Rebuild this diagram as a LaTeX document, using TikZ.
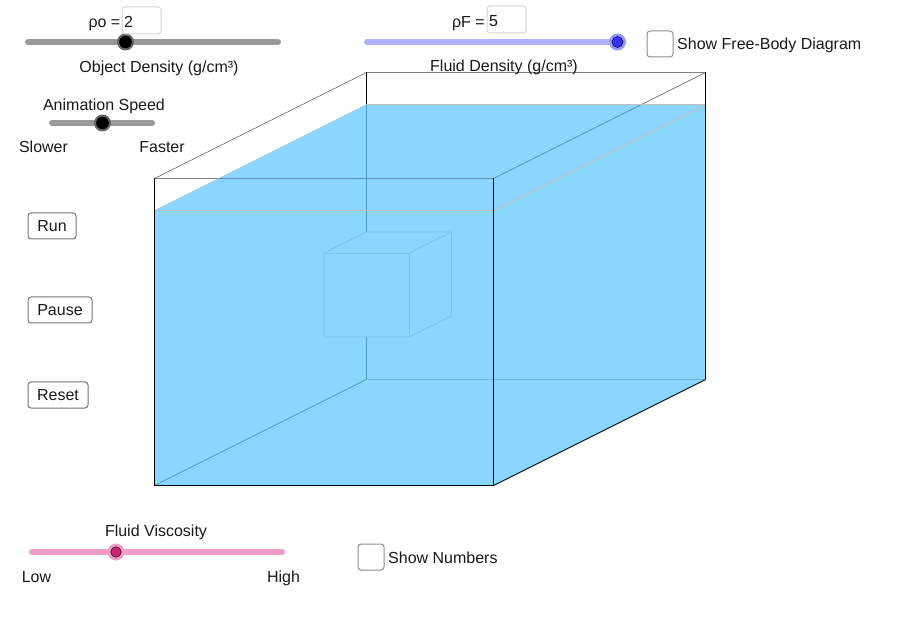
\documentclass[tikz,border=0pt]{standalone}
\usepackage{fontspec}
\setmainfont{Liberation Sans}
\usetikzlibrary{positioning}
\definecolor{water}{HTML}{8AD6FF}
\definecolor{hidden}{HTML}{4A9CC4}
\definecolor{floorline}{HTML}{6DB3D8}
\definecolor{sunken}{HTML}{5A8FAD}
\definecolor{cubeline}{HTML}{7CC3EA}
\definecolor{slidergray}{HTML}{999999}
\definecolor{sliderblue}{HTML}{B0B0FF}
\definecolor{sliderpink}{HTML}{EF9CC8}
\definecolor{knobblue}{HTML}{3333FF}
\definecolor{knobpink}{HTML}{D42079}
\tikzset{
  caption/.style={inner sep=0pt,anchor=base,font=\fontsize{16}{18}\selectfont,text=black!90},
  button/.style={draw=black!55,line width=1pt,rounded corners=3pt,minimum height=26pt,inner sep=0pt,font=\fontsize{16}{18}\selectfont,text=black!90},
  checkbox/.style={draw=black!45,line width=1pt,rounded corners=3pt,minimum size=26pt,inner sep=0pt},
  inputbox/.style={draw=black!17,line width=1pt,rounded corners=3pt,minimum width=39pt,minimum height=27pt,inner sep=0pt},
  track/.style={line width=6pt,line cap=round},
  knob/.style={circle,draw=black,line width=.5pt,minimum size=#1,inner sep=0pt},
  halo/.style={circle,minimum size=17pt,inner sep=0pt},
  edgeblack/.style={draw=black,line width=.9pt},
  edgegray/.style={draw=black!50,line width=.8pt},
  edgelight/.style={draw=black!25,line width=1pt},
  edgesunken/.style={draw=sunken,line width=.8pt},
  edgehidden/.style={draw=hidden,line width=.8pt},
  edgefloor/.style={draw=floorline,line width=1.2pt},
  edgecube/.style={draw=cubeline,line width=.9pt},
}
\begin{document}
\begin{tikzpicture}[x=1pt,y=-1pt]
\useasboundingbox (0,0) rectangle (900,620);

\coordinate (ftl) at (154.5,178.5);
\coordinate (ftr) at (493.5,178.5);
\coordinate (fbl) at (154.5,485.5);
\coordinate (fbr) at (493.5,485.5);
\coordinate (btl) at (366.5,72.5);
\coordinate (btr) at (705.5,72.5);
\coordinate (bbl) at (366.5,379.5);
\coordinate (bbr) at (705.5,379.5);
\coordinate (wfl) at (154.5,210.5);
\coordinate (wfr) at (493.5,210.5);
\coordinate (wbl) at (366.5,104.5);
\coordinate (wbr) at (705.5,104.5);
\coordinate (surfr) at (641.5,104.5);
\coordinate (surff) at (218.5,178.5);

\fill[water] (wfl) -- (wbl) -- (wbr) -- (bbr) -- (fbr) -- (fbl) -- cycle;

\path[edgegray]
  (ftl) edge (btl)
  (surfr) edge (btr)
  (btl) edge (btr)
  (ftl) edge (surff)
;
\path[edgesunken]
  (ftr) edge (surfr)
  (surff) edge (ftr)
;
\path[edgehidden]
  (wbl) edge (bbl)
  (bbl) edge (fbl)
;
\path[edgefloor]
  (bbl) edge (bbr)
;
\path[edgelight]
  (wfl) edge (wfr)
  (wbl) edge (wbr)
  (wfr) edge (wbr)
;
\path[edgelight,line width=.4pt]
  (wfl) edge (wbl)
;
\path[edgeblack]
  (ftl) edge (fbl)
  (ftr) edge (fbr)
  (fbl) edge (fbr)
  (fbr) edge (bbr)
  (btr) edge (bbr)
  (btl) edge (wbl)
;

\coordinate (cfa) at (324,253);
\coordinate (cfb) at (409,253);
\coordinate (cfc) at (409,337);
\coordinate (cfd) at (324,337);
\coordinate (cba) at (366.5,232);
\coordinate (cbb) at (451.5,232);
\coordinate (cbc) at (451.5,316);
\draw[edgecube,fill=water] (cfa) -- (cba) -- (cbb) -- (cbc) -- (cfc) -- (cfd) -- cycle;
\path[edgecube]
  (cfa) edge (cfb)
  (cfb) edge (cfc)
  (cfb) edge (cbb)
;

\coordinate (objL) at (28,42);
\coordinate (objR) at (278,42);
\coordinate (fluidL) at (367,42);
\coordinate (fluidR) at (617,42);
\coordinate (speedL) at (52,123);
\coordinate (speedR) at (152,123);
\coordinate (viscL) at (32,552);
\coordinate (viscR) at (282,552);
\draw[track,slidergray] (objL) -- (objR);
\draw[track,sliderblue] (fluidL) -- (fluidR);
\draw[track,slidergray] (speedL) -- (speedR);
\draw[track,sliderpink] (viscL) -- (viscR);

\node (objhalo) [halo,fill=black!60] at (125.5,42) {};
\node (objknob) [knob=12pt,fill=black] at (125.5,42) {};
\node (fluidhalo) [halo,fill=sliderblue!85!blue] at (617.5,42) {};
\node (fluidknob) [knob=11pt,fill=knobblue] at (617.5,42) {};
\node (speedhalo) [halo,fill=black!60] at (102.5,123) {};
\node (speedknob) [knob=12pt,fill=black] at (102.5,123) {};
\node (vischalo) [halo,fill=sliderpink] at (116,552) {};
\node (visknob) [knob=10.5pt,fill=knobpink] at (116,552) {};

\node (objbox) [inputbox,anchor=north west] at (121.5,6.5) {};
\node (objval) [caption,anchor=base west] at (124,28) {2};
\node (objsym) [caption,anchor=base east] at (120.5,28) {ρo =};
\node (objname) [caption] at (159,73) {Object Density (g/cm³)};
\node (fluidbox) [inputbox,anchor=north west] at (486.5,5.5) {};
\node (fluidval) [caption,anchor=base west] at (489,27) {5};
\node (fluidsym) [caption,anchor=base east] at (485,27.5) {ρF =};
\node (fluidname) [caption] at (504,72) {Fluid Density (g/cm³)};
\node (speedname) [caption] at (104,110.5) {Animation Speed};
\node (slower) [caption] at (43.5,152.5) {Slower};
\node (faster) [caption] at (162,153) {Faster};
\node (viscname) [caption] at (156,536.5) {Fluid Viscosity};
\node (low) [caption] at (36.5,582) {Low};
\node (high) [caption] at (283.5,582) {High};

\node (run) [button,minimum width=48pt,anchor=north west] at (27.5,212.5) {Run};
\node (pause) [button,minimum width=64pt,anchor=north west] at (27.5,296.5) {Pause};
\node (reset) [button,minimum width=60pt,anchor=north west] at (27.5,381.5) {Reset};

\node (fbdbox) [checkbox,anchor=north west] at (646.5,30.5) {};
\node (fbdtext) [caption,anchor=base west] at ([xshift=3.5pt,yshift=-6pt]fbdbox.east) {Show Free-Body Diagram};
\node (numbox) [checkbox,anchor=north west] at (357.5,543.5) {};
\node (numtext) [caption,anchor=base west] at ([xshift=3.5pt,yshift=-6pt]numbox.east) {Show Numbers};
\end{tikzpicture}
\end{document}
